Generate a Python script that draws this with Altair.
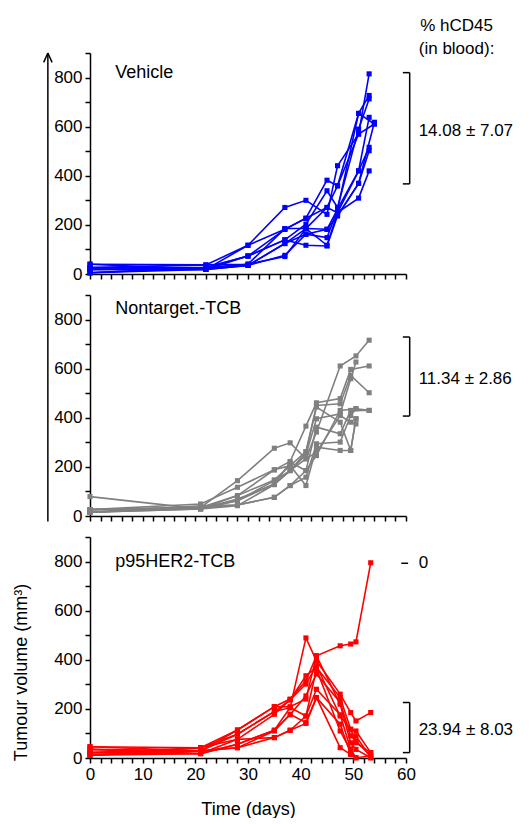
import altair as alt
import pandas as pd

FONT = "Liberation Sans"

# ---------------- data ----------------
veh_days = [0, 22, 30, 37, 41, 45, 47, 51, 53, 54]
veh_mice = [
    [40, 37, 117, 271, 300, 243, 441, 570, 815, None],
    [26, 26, 73, 182, 227, 382, 359, 654, 727, None],
    [19, 19, 73, 139, 203, 339, 271, 590, 713, None],
    [5, 19, 35, 124, 185, 271, 250, 420, 638, None],
    [5, 26, 40, 185, 185, 182, 237, 369, None, 618],
    [19, 19, 35, 76, 162, 148, 264, 420, 516, None],
    [5, 26, 73, 139, 117, 114, 237, 369, 502, None],
    [26, 37, 40, 71, 185, 117, 250, 309, 420, None],
    [40, 19, 117, 182, 227, 271, 359, 570, None, 611],
    [19, 26, 35, 124, 162, 182, 264, 654, None, 611],
]

non_days = [0, 21, 28, 35, 38, 41, 43, 47.5, 49.5, 50.5, 53]
non_mice = [
    [15, 35, 144, 276, 298, 233, 342, 611, None, 652, 716],
    [26, 49, 117, 188, 222, 366, 461, 478, 597, None, 611],
    [79, 29, 83, 147, 205, 262, 450, 457, 573, None, 502],
    [15, 35, 62, 131, 185, 249, 396, 416, 559, 627, None],
    [26, 29, 69, 128, 219, 185, 362, 335, 430, None, 430],
    [15, 42, 45, 76, 124, 158, 294, 301, 409, 437, None],
    [26, 35, 83, 188, 205, 124, 280, 267, 267, 396, None],
    [15, 29, 62, 144, 185, 233, 260, 409, 382, 375, None],
    [26, 35, 45, 76, 124, 185, 246, 430, None, 437, 430],
    [15, 29, 42, 128, 185, 260, 444, 382, 267, 396, None],
]

p95_days = [0, 21, 28, 35, 38, 41, 43, 47.5, 49.5, 50.5, 53.3]
p95_mice = [
    [46, 42, 114, 209, 240, 314, 416, 457, 464, 473, 795],
    [35, 29, 97, 189, 205, 489, 396, 260, 185, 151, 185],
    [22, 42, 76, 178, 237, 335, 369, 246, 117, 110, 22],
    [11, 18, 56, 113, 176, 253, 342, 226, 90, 69, 8],
    [46, 29, 114, 209, 209, 240, 416, 219, 62, 35, 1],
    [35, 18, 76, 83, 113, 171, 280, 176, 35, 1, None],
    [22, 29, 42, 110, 178, 144, 246, 138, 15, 1, 8],
    [11, 42, 97, 189, 237, 301, 376, 171, 117, 62, 22],
    [22, 18, 56, 113, 205, 171, 362, 110, 29, 90, 1],
    [11, 29, 42, 83, 113, 141, 246, 42, 15, None, None],
]

group_names = ["Vehicle", "Nontarget.-TCB", "p95HER2-TCB"]
group_colors = ["#0000ff", "#808080", "#ff0000"]
hcd45_texts = ["14.08 ± 7.07", "11.34 ± 2.86", "23.94 ± 8.03"]
# bracket ranges (tumour volume) per group
brackets = [[(367, 820)], [(407, 729)], [(793, 793), (22, 226)]]
label_y = [820, 845, 800]
ann_y = [584, 556, 113]
header_lines = ["% hCD45", "(in blood):"]
header_y = [1008, 915]
x_ticks = list(range(0, 61, 2))
y_ticks = list(range(0, 901, 100))


def long_df(days, mice):
    rows = []
    for i, m in enumerate(mice):
        for d, v in zip(days, m):
            if v is not None:
                rows.append({"mouse": f"m{i}", "day": d, "vol": v})
    return pd.DataFrame(rows)


datasets = [long_df(veh_days, veh_mice), long_df(non_days, non_mice), long_df(p95_days, p95_mice)]

X_SCALE = alt.Scale(domain=[0, 60], nice=False, zero=False)
Y_SCALE = alt.Scale(domain=[0, 900], nice=False)

W, H = 316, 221
BX, TX = 60.7, 59.4  # bracket vertical & tick-left positions (days)
ANN_X = 62.4


def panel(i):
    df = datasets[i]
    color = group_colors[i]
    last = i == 2
    x_axis = alt.Axis(
        values=x_ticks,
        labels=last,
        labelExpr="datum.value % 10 == 0 ? datum.label : ''",
        labelOverlap=False,
        labelFlush=False,
        title="Time (days)" if last else "",
        titleFontSize=18,
        titleFontWeight="normal",
        titlePadding=18,
        grid=False,
        orient="bottom",
    )
    y_axis = alt.Axis(
        values=y_ticks,
        labelExpr="(datum.value % 200 == 0 && datum.value <= 800) ? datum.label : ''",
        labelOverlap=False,
        title="Tumour volume (mm³)" if last else "",
        titleFontSize=18,
        titleFontWeight="normal",
        titleX=-60,
        titleY=135,
        grid=False,
        orient="left",
    )

    def X():
        return alt.X("day:Q", scale=X_SCALE, axis=x_axis)

    def Y():
        return alt.Y("vol:Q", scale=Y_SCALE, axis=y_axis)

    lines = alt.Chart(df).mark_line(
        color=color, strokeWidth=1.6,
        point=alt.OverlayMarkDef(shape="square", size=26, filled=True, color=color, opacity=1),
    ).encode(x=X(), y=Y(), detail="mouse:N")

    layers = [lines]

    lab = pd.DataFrame({"day": [4.8], "vol": [label_y[i]], "t": [group_names[i]]})
    layers.append(alt.Chart(lab).mark_text(align="left", baseline="middle", fontSize=18, font=FONT, color="black")
                  .encode(x=X(), y=Y(), text="t:N"))

    segs = []
    for lo, hi in brackets[i]:
        if lo == hi:
            segs.append({"day": 59.1, "day2": 60.4, "vol": lo, "vol2": lo})
        else:
            segs.append({"day": BX, "day2": BX, "vol": lo, "vol2": hi})
            segs.append({"day": TX, "day2": BX, "vol": lo, "vol2": lo})
            segs.append({"day": TX, "day2": BX, "vol": hi, "vol2": hi})
    if i == 0:
        # long vertical arrow to the left of the axes
        segs.append({"day": -8.0, "day2": -8.0, "vol": 900, "vol2": -1008})
        segs.append({"day": -8.0, "day2": -8.8, "vol": 900, "vol2": 862})
        segs.append({"day": -8.0, "day2": -7.2, "vol": 900, "vol2": 862})
    sdf = pd.DataFrame(segs)
    layers.append(alt.Chart(sdf).mark_rule(color="black", strokeWidth=1.5)
                  .encode(x=X(), x2="day2:Q", y=Y(), y2="vol2:Q"))

    texts = [{"day": ANN_X, "vol": ann_y[i], "t": hcd45_texts[i]}]
    if i == 2:
        texts.append({"day": ANN_X, "vol": 793, "t": "0"})
    tdf = pd.DataFrame(texts)
    layers.append(alt.Chart(tdf).mark_text(align="left", baseline="middle", fontSize=17, font=FONT, color="black")
                  .encode(x=X(), y=Y(), text="t:N"))

    if i == 0:
        hdf = pd.DataFrame({"day": [69.6, 69.6], "vol": header_y, "t": header_lines})
        layers.append(alt.Chart(hdf).mark_text(align="center", baseline="middle", fontSize=17, font=FONT, color="black")
                      .encode(x=X(), y=Y(), text="t:N"))

    return alt.layer(*layers).properties(width=W, height=H)


chart = alt.vconcat(panel(0), panel(1), panel(2), spacing=21, bounds="flush").properties(
    padding={"left": 3, "top": 9, "right": 0, "bottom": 0}
).configure_view(stroke=None).configure_axis(
    domainColor="black", tickColor="black", domainWidth=1.5, tickWidth=1.5, tickSize=5,
    labelFont=FONT, titleFont=FONT, labelFontSize=17, labelColor="black", titleColor="black",
    labelPadding=3,
)

chart.save("out.html", embed_options={"renderer": "svg", "actions": False})
